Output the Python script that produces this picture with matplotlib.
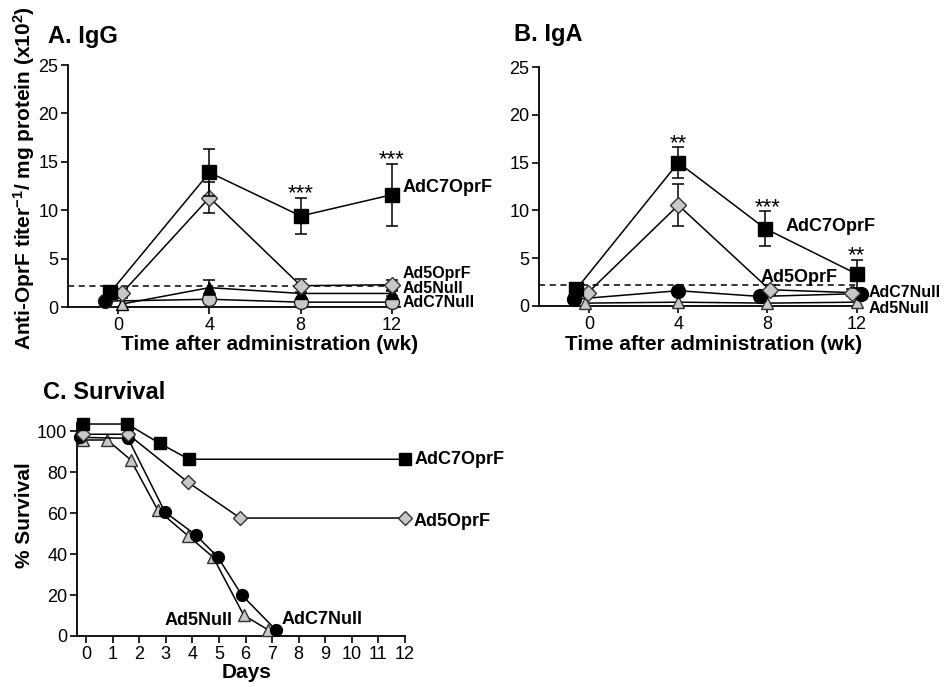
import matplotlib
matplotlib.use("Agg")
import matplotlib.pyplot as plt

plt.rcParams['font.family'] = ['Liberation Sans', 'DejaVu Sans']
plt.rcParams['mathtext.fontset'] = 'custom'
plt.rcParams['mathtext.rm'] = 'Liberation Sans:bold'
plt.rcParams['mathtext.bf'] = 'Liberation Sans:bold'
plt.rcParams['mathtext.it'] = 'Liberation Sans:bold'

# ---------------- data ----------------
weeks = [0, 4, 8, 12]

# Panel A (IgG)
A_AdC7OprF = [1.5, 13.9, 9.4, 11.6]
A_AdC7OprF_err = [0.7, 2.4, 1.9, 3.2]
A_Ad5OprF = [1.4, 11.3, 2.2, 2.3]
A_Ad5OprF_err = [0.5, 1.6, 0.7, 0.5]
A_Ad5Null = [0.3, 2.0, 1.4, 1.4]
A_Ad5Null_err = [0.0, 0.8, 0.0, 0.3]
A_AdC7Null = [0.6, 0.8, 0.5, 0.5]
A_AdC7Null_err = [0.0, 0.0, 0.0, 0.0]
A_stars = {8: "***", 12: "***"}

# Panel B (IgA)
B_AdC7OprF = [1.75, 15.0, 8.1, 3.35]
B_AdC7OprF_err = [0.5, 1.6, 1.8, 1.5]
B_Ad5OprF = [1.4, 10.55, 1.7, 1.4]
B_Ad5OprF_err = [0.3, 2.2, 0.5, 0.4]
B_AdC7Null = [0.7, 1.6, 1.0, 1.3]
B_AdC7Null_err = [0.0, 0.0, 0.0, 0.0]
B_Ad5Null = [0.3, 0.4, 0.3, 0.4]
B_Ad5Null_err = [0.0, 0.0, 0.0, 0.0]
B_stars = {4: "**", 8: "***", 12: "**"}

detection_limit = 2.15

# Panel C (survival)
C_AdC7OprF_days = [-0.1, 1.55, 2.78, 3.87, 12.0]
C_AdC7OprF_surv = [103.5, 103.5, 94, 86.3, 86.3]
C_Ad5OprF_days = [-0.1, 1.58, 3.83, 5.8, 12.0]
C_Ad5OprF_surv = [98.5, 98.5, 75.1, 57.6, 57.6]
C_AdC7Null_days = [-0.22, 1.58, 2.97, 4.13, 4.96, 5.86, 7.14]
C_AdC7Null_surv = [97, 96.5, 60.5, 49.3, 38.5, 20, 3]
C_Ad5Null_days = [-0.1, 0.8, 1.68, 2.7, 3.85, 4.78, 5.93, 6.85]
C_Ad5Null_surv = [95.7, 95.7, 86, 61.5, 48.8, 38.5, 10.2, 3]

# ---------------- style ----------------
GRAY = '#c8c8c8'
sty = {
    'AdC7OprF': dict(marker='s', fc='black', ec='black', ms=9.5),
    'Ad5OprF': dict(marker='D', fc=GRAY, ec='#333333', ms=8.5),
    'Ad5Null_A': dict(marker='^', fc='black', ec='black', ms=8.5),
    'AdC7Null_A': dict(marker='o', fc=GRAY, ec='#222222', ms=10),
    'AdC7Null_B': dict(marker='o', fc='black', ec='black', ms=10),
    'Ad5Null_B': dict(marker='^', fc=GRAY, ec='#333333', ms=9),
}
TICK_FS = 13
LAB_FS = 15
SER_FS = 13
STACK_FS = 11.5

W, H = 953, 687
fig = plt.figure(figsize=(W / 100, H / 100), dpi=100)


def px_axes(left, right, top, bottom):
    return fig.add_axes([left / W, 1 - bottom / H, (right - left) / W, (bottom - top) / H])


def style_axes(ax):
    for s in ('top', 'right'):
        ax.spines[s].set_visible(False)
    for s in ('left', 'bottom'):
        ax.spines[s].set_linewidth(1.3)
    ax.tick_params(direction='out', length=5, width=1.2, labelsize=TICK_FS, pad=2)


def dashed_limit(ax, y, x_end):
    x0, x1 = ax.get_xlim()
    ax.axhline(y, xmin=0, xmax=(x_end - x0) / (x1 - x0), color='black', lw=1.1,
               ls=(0, (4, 3)), zorder=1)


def draw_series(ax, x, y, err, st, offsets=None, faces=None, zorder=3):
    xs = [xi + (offsets[i] if offsets else 0) for i, xi in enumerate(x)]
    ax.plot(xs, y, color='black', lw=1.1, zorder=zorder, clip_on=False)
    for i, (xi, yi) in enumerate(zip(xs, y)):
        if err is not None and err[i] > 0:
            ax.errorbar([xi], [yi], yerr=[[err[i]], [err[i]]], fmt='none', ecolor='black',
                        elinewidth=1.1, capsize=4, capthick=1.1, zorder=zorder, clip_on=False)
        fc = faces[i] if faces else st['fc']
        ax.plot([xi], [yi], linestyle='none', marker=st['marker'], markerfacecolor=fc,
                markeredgecolor=st['ec'], markeredgewidth=1.0, markersize=st['ms'],
                zorder=zorder + 1, clip_on=False)


# ---------------- Panel A ----------------
axA = px_axes(68, 400, 65, 307)
style_axes(axA)
axA.set_xlim(-2.2, 12.35)
axA.set_ylim(0, 25)
axA.set_xticks(weeks)
axA.set_yticks([0, 5, 10, 15, 20, 25])
dashed_limit(axA, detection_limit, 12.0)
draw_series(axA, weeks, A_AdC7Null, A_AdC7Null_err, sty['AdC7Null_A'], offsets=[-0.6, 0, 0, 0],
            faces=['black', GRAY, GRAY, GRAY], zorder=3)
draw_series(axA, weeks, A_Ad5Null, A_Ad5Null_err, sty['Ad5Null_A'], offsets=[0.15, 0, 0, 0],
            faces=[GRAY, 'black', 'black', 'black'], zorder=4)
draw_series(axA, weeks, A_Ad5OprF, A_Ad5OprF_err, sty['Ad5OprF'], offsets=[0.15, 0, 0, 0], zorder=5)
draw_series(axA, weeks, A_AdC7OprF, A_AdC7OprF_err, sty['AdC7OprF'], offsets=[-0.35, 0, 0, 0], zorder=6)
for wk, s in A_stars.items():
    i = weeks.index(wk)
    axA.annotate(s, (wk, A_AdC7OprF[i] + A_AdC7OprF_err[i]), xytext=(0, -5), textcoords='offset points',
                 ha='center', va='bottom', fontsize=16)
axA.text(12.45, 12.3, 'AdC7OprF', fontsize=SER_FS, fontweight='bold', ha='left', va='center', clip_on=False)
for name, yv in (('Ad5OprF', 3.45), ('Ad5Null', 1.95), ('AdC7Null', 0.45)):
    axA.text(12.45, yv, name, fontsize=STACK_FS, fontweight='bold', ha='left', va='center', clip_on=False)

# ---------------- Panel B ----------------
axB = px_axes(539, 860, 67, 306)
style_axes(axB)
axB.set_xlim(-2.25, 12.15)
axB.set_ylim(0, 25)
axB.set_xticks(weeks)
axB.set_yticks([0, 5, 10, 15, 20, 25])
dashed_limit(axB, detection_limit, 12.0)
draw_series(axB, weeks, B_Ad5Null, B_Ad5Null_err, sty['Ad5Null_B'], offsets=[-0.2, 0, 0, 0], zorder=3)
draw_series(axB, weeks, B_AdC7Null, B_AdC7Null_err, sty['AdC7Null_B'], offsets=[-0.7, 0, -0.35, 0.2], zorder=4)
draw_series(axB, weeks, B_Ad5OprF, B_Ad5OprF_err, sty['Ad5OprF'], offsets=[-0.05, 0, 0.1, -0.2], zorder=5)
draw_series(axB, weeks, B_AdC7OprF, B_AdC7OprF_err, sty['AdC7OprF'], offsets=[-0.58, 0, -0.1, 0], zorder=6)
for wk, s in B_stars.items():
    i = weeks.index(wk)
    axB.annotate(s, (wk, B_AdC7OprF[i] + B_AdC7OprF_err[i]), xytext=(0, -5), textcoords='offset points',
                 ha='center', va='bottom', fontsize=16)
axB.text(8.8, 8.3, 'AdC7OprF', fontsize=SER_FS, fontweight='bold', ha='left', va='center', zorder=8)
axB.text(7.7, 3.0, 'Ad5OprF', fontsize=SER_FS, fontweight='bold', ha='left', va='center', zorder=8)
axB.text(12.55, 1.45, 'AdC7Null', fontsize=STACK_FS, fontweight='bold', ha='left', va='center', clip_on=False)
axB.text(12.55, -0.25, 'Ad5Null', fontsize=STACK_FS, fontweight='bold', ha='left', va='center', clip_on=False)

# ---------------- Panel C ----------------
axC = px_axes(77, 405, 423, 636)
style_axes(axC)
axC.set_xlim(-0.34, 12.0)
axC.set_ylim(0, 104)
axC.set_xticks(range(0, 13))
axC.set_yticks([0, 20, 40, 60, 80, 100])
csty = {
    'AdC7OprF': dict(marker='s', fc='black', ec='black', ms=8.5),
    'Ad5OprF': dict(marker='D', fc=GRAY, ec='#333333', ms=7.5),
    'AdC7Null': dict(marker='o', fc='black', ec='black', ms=8.5),
    'Ad5Null': dict(marker='^', fc=GRAY, ec='#333333', ms=9),
}
draw_series(axC, C_Ad5Null_days, C_Ad5Null_surv, None, csty['Ad5Null'], zorder=3)
draw_series(axC, C_AdC7Null_days, C_AdC7Null_surv, None, csty['AdC7Null'], zorder=4)
draw_series(axC, C_Ad5OprF_days, C_Ad5OprF_surv, None, csty['Ad5OprF'], zorder=5)
draw_series(axC, C_AdC7OprF_days, C_AdC7OprF_surv, None, csty['AdC7OprF'], zorder=6)
axC.text(12.37, 86.3, 'AdC7OprF', fontsize=SER_FS, fontweight='bold', ha='left', va='center', clip_on=False)
axC.text(12.33, 56, 'Ad5OprF', fontsize=SER_FS, fontweight='bold', ha='left', va='center', clip_on=False)
axC.text(5.53, 7.8, 'Ad5Null', fontsize=SER_FS, fontweight='bold', ha='right', va='center')
axC.text(7.37, 8.3, 'AdC7Null', fontsize=SER_FS, fontweight='bold', ha='left', va='center')

# ---------------- titles and axis labels ----------------
fig.text(48 / W, 1 - 43 / H, 'A. IgG', fontsize=17, fontweight='bold', ha='left', va='baseline')
fig.text(514 / W, 1 - 41 / H, 'B. IgA', fontsize=17, fontweight='bold', ha='left', va='baseline')
fig.text(43 / W, 1 - 399 / H, 'C. Survival', fontsize=17, fontweight='bold', ha='left', va='baseline')

fig.text(270 / W, 1 - 350 / H, 'Time after administration (wk)', fontsize=LAB_FS, fontweight='bold',
         ha='center', va='baseline')
fig.text(714 / W, 1 - 350 / H, 'Time after administration (wk)', fontsize=LAB_FS, fontweight='bold',
         ha='center', va='baseline')
fig.text(247 / W, 1 - 678 / H, 'Days', fontsize=LAB_FS, fontweight='bold', ha='center', va='baseline')

fig.text(24 / W, 1 - 178 / H, r'Anti-OprF titer$^{-1}$/ mg protein (x10$^{2}$)', fontsize=LAB_FS,
         fontweight='bold', rotation=90, ha='center', va='center')
fig.text(25 / W, 1 - 515 / H, '% Survival', fontsize=LAB_FS, fontweight='bold', rotation=90,
         ha='center', va='center')

fig.savefig('out.png', dpi=100, facecolor='white')
